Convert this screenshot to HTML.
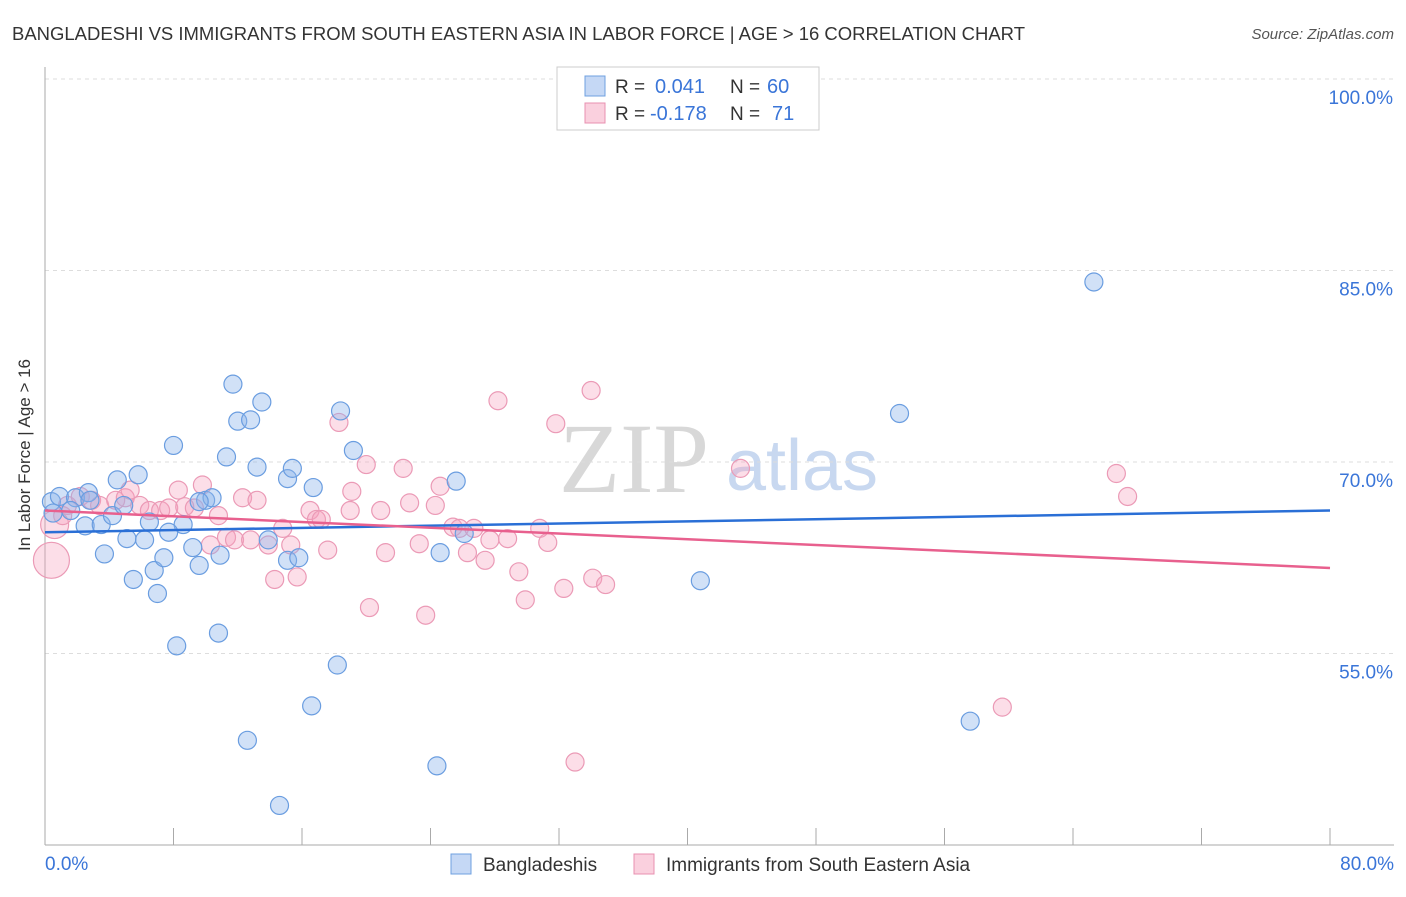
<!DOCTYPE html>
<html><head><meta charset="utf-8"><style>
body{margin:0;background:#fff;font-family:"Liberation Sans",sans-serif;}
</style></head><body>
<svg id="chart" width="1406" height="892" font-family="Liberation Sans, sans-serif">
<text x="12" y="40" font-size="18" fill="#333" textLength="1013" lengthAdjust="spacingAndGlyphs">BANGLADESHI VS IMMIGRANTS FROM SOUTH EASTERN ASIA IN LABOR FORCE | AGE &gt; 16 CORRELATION CHART</text>
<text x="1394" y="39" font-size="15" fill="#555" font-style="italic" text-anchor="end">Source: ZipAtlas.com</text>
<text x="30" y="455" font-size="17" fill="#333" text-anchor="middle" transform="rotate(-90 30 455)">In Labor Force | Age &gt; 16</text>
<text x="634" y="492" font-size="100" fill="#d8d8d8" style="font-family:'Liberation Serif',serif" text-anchor="middle">ZIP</text>
<text x="802" y="490" font-size="72" fill="#c8d8f0" text-anchor="middle">atlas</text>
<g id="grid"></g><g id="pts"></g><g id="lines"></g>
<g>
<rect x="557" y="67" width="262" height="63" fill="#fff" stroke="#ccc"/>
<rect x="585" y="76" width="20" height="20" fill="#c5d8f5" stroke="#6fa0e0"/>
<rect x="585" y="103" width="20" height="20" fill="#fad0de" stroke="#e890b0"/>
<text x="615" y="93" font-size="19" fill="#333">R = </text><text x="655" y="93" font-size="20" fill="#3a75d8">0.041</text>
<text x="730" y="93" font-size="19" fill="#333">N = </text><text x="767" y="93" font-size="20" fill="#3a75d8">60</text>
<text x="615" y="120" font-size="19" fill="#333">R = </text><text x="650" y="120" font-size="20" fill="#3a75d8">-0.178</text>
<text x="730" y="120" font-size="19" fill="#333">N = </text><text x="772" y="120" font-size="20" fill="#3a75d8">71</text>
</g>
<g>
<rect x="451" y="854" width="20" height="20" fill="#c5d8f5" stroke="#6fa0e0"/>
<text x="483" y="871" font-size="19" fill="#333">Bangladeshis</text>
<rect x="634" y="854" width="20" height="20" fill="#fad0de" stroke="#e890b0"/>
<text x="666" y="871" font-size="19" fill="#333">Immigrants from South Eastern Asia</text>
</g>
</svg>
<script>
const yTicks=[100,85,70,55];
const xTickLabels=["0.0%","80.0%"];
const blueX=[0.4,0.9,0.5,1.9,2.7,1.6,2.8,2.5,3.5,4.2,4.5,4.9,5.8,6.5,5.1,6.2,3.7,5.5,6.8,7.4,7.0,8.0,8.6,7.7,9.2,9.6,10.0,10.4,9.6,10.9,11.3,10.8,8.2,11.7,12.0,12.8,13.5,13.2,15.1,15.4,13.9,15.1,15.8,16.7,18.4,19.2,18.2,16.6,12.6,14.6,24.4,25.6,24.6,26.1,40.8,53.2,57.6,65.3];
const blueY=[66.9,67.3,66.0,67.2,67.6,66.2,67.0,65.0,65.1,65.8,68.6,66.6,69.0,65.3,64.0,63.9,62.8,60.8,61.5,62.5,59.7,71.3,65.1,64.5,63.3,61.9,67.0,67.2,66.9,62.7,70.4,56.6,55.6,76.1,73.2,73.3,74.7,69.6,68.7,69.5,63.9,62.3,62.5,68.0,74.0,70.9,54.1,50.9,48.2,43.1,46.2,68.5,62.9,64.4,60.7,73.8,49.7,84.1];
const pinkX=[0.4,0.6,1.1,1.4,2.2,2.9,3.4,4.4,5.0,5.3,5.9,6.5,7.2,7.7,8.3,8.7,9.3,9.8,10.8,10.3,11.3,11.8,12.3,13.2,12.8,13.9,14.3,14.8,15.3,15.7,16.5,16.9,17.2,17.6,18.3,19.0,19.1,20.0,20.9,21.2,20.2,22.3,22.7,23.3,23.7,24.6,24.3,26.3,25.4,25.8,26.7,27.4,27.7,28.8,28.2,29.5,29.9,30.8,31.3,31.8,32.3,34.0,34.1,34.9,33.0,43.3,59.6,66.7,67.4];
const pinkY=[62.3,65.1,65.8,66.6,67.3,67.0,66.6,67.0,67.2,67.8,66.6,66.2,66.2,66.4,67.8,66.5,66.4,68.2,65.8,63.5,64.1,63.9,67.2,67.0,63.9,63.5,60.8,64.8,63.5,61.0,66.2,65.5,65.5,63.1,73.1,66.2,67.7,69.8,66.2,62.9,58.6,69.5,66.8,63.6,58.0,68.1,66.6,62.9,64.9,64.8,64.8,62.3,63.9,64.0,74.8,61.4,59.2,64.8,63.7,73.0,60.1,75.6,60.9,60.4,46.5,69.5,50.8,69.1,67.3];
const pinkR=[18,14];
const blueTrend=[64.5,66.2];
const pinkTrend=[66.2,61.7];
const NS="http://www.w3.org/2000/svg";
const X0=45,X1=1330,Y100=79,PXP=12.767;
function sx(v){return X0+v*(X1-X0)/80;}
function sy(v){return Y100+(100-v)*PXP;}
function mk(t,a,p){const e=document.createElementNS(NS,t);for(const k in a)e.setAttribute(k,a[k]);p.appendChild(e);return e;}
const grid=document.getElementById('grid');
yTicks.forEach(t=>{
 const l=mk('line',{x1:X0,x2:1394,y1:sy(t),y2:sy(t),stroke:'#ddd','stroke-dasharray':'4,4'},grid);
 
 
 const tx=mk('text',{x:1393,y:sy(t)+25,'font-size':19,fill:'#3a75d8','text-anchor':'end'},grid);
 tx.textContent=t.toFixed(1)+'%';
 
 
});
const ax=mk('line',{x1:X0,x2:X0,y1:67,y2:845,stroke:'#aaa'},grid);


const bx=mk('line',{x1:X0,x2:1394,y1:845,y2:845,stroke:'#aaa'},grid);


for(let i=0;i<=10;i++){const v=i*8;const t=mk('line',{x1:sx(v),x2:sx(v),y1:828,y2:845,stroke:'#aaa'},grid);
 
 }
xTickLabels.forEach((s,i)=>{const t=mk('text',{x:i?1394:45,y:870,'font-size':19,fill:'#3a75d8','text-anchor':i?'end':'start'},grid);t.textContent=s;
 
 });
const pts=document.getElementById('pts');
pinkX.forEach((x,i)=>{const c=mk('circle',{cx:sx(x),cy:sy(pinkY[i]),r:pinkR[i]||9,fill:'rgba(245,160,190,0.35)',stroke:'#eb9ab6','stroke-width':1.2},pts);
 
 });
blueX.forEach((x,i)=>{const c=mk('circle',{cx:sx(x),cy:sy(blueY[i]),r:9,fill:'rgba(140,180,235,0.4)',stroke:'#6a9de0','stroke-width':1.2},pts);
 
 });
const lines=document.getElementById('lines');
const bl=mk('line',{x1:sx(0),y1:sy(blueTrend[0]),x2:sx(80),y2:sy(blueTrend[1]),stroke:'#2a6fd6','stroke-width':2.5},lines);


const pl=mk('line',{x1:sx(0),y1:sy(pinkTrend[0]),x2:sx(80),y2:sy(pinkTrend[1]),stroke:'#e8608e','stroke-width':2.5},lines);


</script>
</body></html>
